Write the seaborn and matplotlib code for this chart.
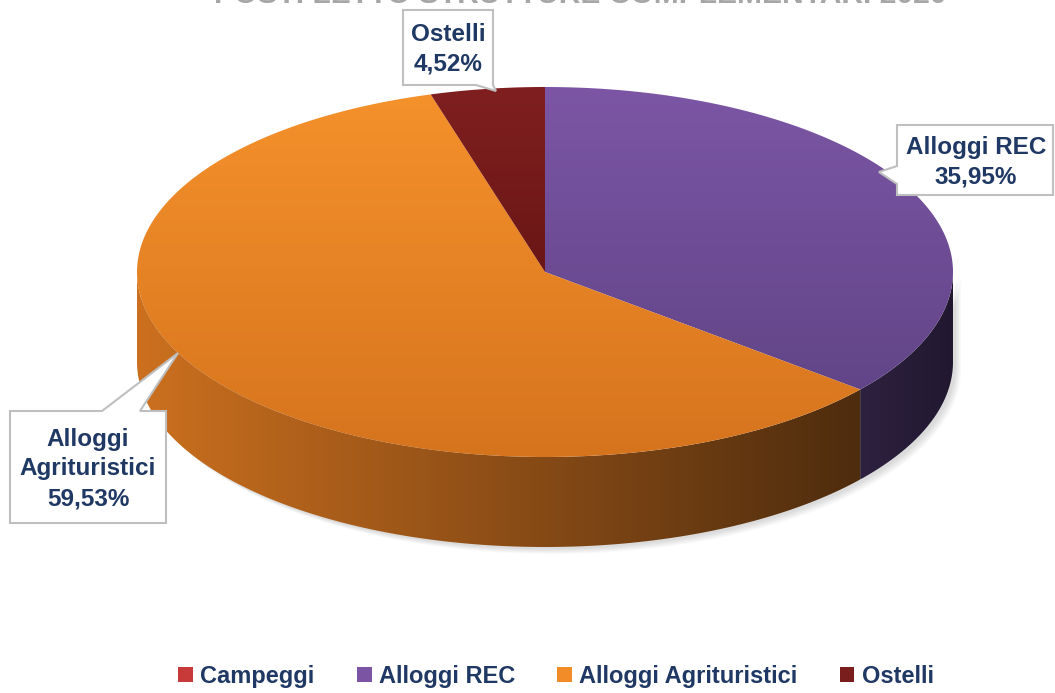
import numpy as np
import matplotlib
matplotlib.use("Agg")
import matplotlib.pyplot as plt
import seaborn as sns
from matplotlib.patches import Polygon, Patch
from matplotlib.colors import LinearSegmentedColormap
from matplotlib import font_manager

# data
categories = ["Campeggi", "Alloggi REC", "Alloggi Agrituristici", "Ostelli"]
shares = [0.0, 35.95, 59.53, 4.52]
callouts = ["", "Alloggi REC\n35,95%", "Alloggi\nAgrituristici\n59,53%", "Ostelli\n4,52%"]
title = "POSTI LETTO STRUTTURE COMPLEMENTARI 2020"

# colours: legend, top face (light, dark), side face (light, dark)
legend_colors = ["#C83A3A", "#7B55A3", "#F28C28", "#7A1D1D"]
top_colors = [("#D04040", "#A83030"), ("#7C56A5", "#624588"),
              ("#F5912B", "#D6741E"), ("#801F1F", "#6A1616")]
side_colors = [("#8A2020", "#5A1010"), ("#2E2140", "#211830"),
               ("#CC701F", "#4E2C0E"), ("#4A1010", "#3A0C0C")]

sns.set_theme(style="white")
names = {f.name for f in font_manager.fontManager.ttflist}
font = "Liberation Sans Narrow" if "Liberation Sans Narrow" in names else "Liberation Sans"
narrow = font == "Liberation Sans Narrow"
plt.rcParams["font.family"] = [font, "DejaVu Sans"]
navy = "#1F3864"
lab_size = 20 if narrow else 17.5
leg_size = 21 if narrow else 17

fig = plt.figure(figsize=(10.55, 6.93), dpi=100)
ax = fig.add_axes([0, 0, 1, 1])
ax.set_xlim(0, 1055)
ax.set_ylim(693, 0)
ax.axis("off")

# pie geometry (pixel units)
cx, cy = 545, 272
rx, ry = 408, 185
depth = 90


def arc(t0, t1, dy=0, n=200):
    t = np.radians(np.linspace(t0, t1, n))
    return np.column_stack([cx + rx * np.cos(t), cy - ry * np.sin(t) + dy])


def grad_fill(verts, c1, c2, horizontal=False):
    patch = Polygon(verts, closed=True, facecolor="none", edgecolor="none")
    ax.add_patch(patch)
    cmap = LinearSegmentedColormap.from_list("g", [c1, c2])
    g = np.linspace(0, 1, 256)
    img = g[None, :] if horizontal else g[:, None]
    x0, y0 = verts.min(axis=0)
    x1, y1 = verts.max(axis=0)
    im = ax.imshow(img, cmap=cmap, extent=(x0, x1, y1, y0), aspect="auto",
                   interpolation="bicubic", zorder=2)
    im.set_clip_path(patch)


# soft shadow
for k in range(6):
    sh = np.vstack([arc(0, -180, depth + 2 + k), arc(-180, 0, 0)])
    sh[:, 0] += 3 + k
    ax.add_patch(Polygon(sh, closed=True, facecolor="#000000", alpha=0.025,
                         edgecolor="none", zorder=1))

# slices, clockwise from 12 o'clock
start = 90.0
spans = []
for s in shares:
    end = start - 360.0 * s / 100.0
    spans.append((start, end))
    start = end

# side walls (front half only)
for i, (t0, t1) in enumerate(spans):
    if t0 == t1:
        continue
    for k in (0, -360):
        hi = min(t0, 0 + k)
        lo = max(t1, -180 + k)
        if hi > lo:
            verts = np.vstack([arc(hi, lo), arc(lo, hi, depth)])
            grad_fill(verts, *side_colors[i], horizontal=True)

# top faces
for i, (t0, t1) in enumerate(spans):
    if t0 == t1:
        continue
    verts = np.vstack([[cx, cy], arc(t0, t1)])
    grad_fill(verts, *top_colors[i])

# callout boxes (layout)
boxes = {
    1: ([(897, 125), (1053, 125), (1053, 195), (897, 195), (897, 184), (879, 172), (897, 166)],
        (976, 162)),
    2: ([(10, 411), (102, 411), (178, 353), (140, 411), (166, 411), (166, 523), (10, 523)],
        (88, 469)),
    3: ([(403, 10), (493, 10), (493, 85), (496, 91), (476, 85), (403, 85)],
        (448, 49)),
}
for i, (pts, (tx, ty)) in boxes.items():
    ax.add_patch(Polygon(pts, closed=True, facecolor="white", edgecolor="#BFBFBF",
                         linewidth=1.5, zorder=4))
    ax.text(tx, ty, callouts[i], ha="center", va="center", color=navy,
            fontsize=lab_size, fontweight="bold", linespacing=1.38, zorder=5)

# title (cut at the top edge), sized to span ~730 px
ttl = fig.text(0.55, 1 - 3 / 693, title, ha="center", va="baseline", color="#A6A6A6",
               fontsize=26, fontweight="bold")
fig.canvas.draw()
w = ttl.get_window_extent().width
ttl.set_fontsize(26 * 730 / w)

# legend
handles = [Patch(facecolor=c, edgecolor="none") for c in legend_colors]
leg = fig.legend(handles, categories, loc="center", bbox_to_anchor=(0.527, 0.024),
                 ncol=4, frameon=False, fontsize=leg_size, handlelength=0.62,
                 handleheight=0.62, handletextpad=0.3, columnspacing=1.8)
for t in leg.get_texts():
    t.set_color(navy)
    t.set_fontweight("bold")

fig.savefig("out.png", dpi=100)
